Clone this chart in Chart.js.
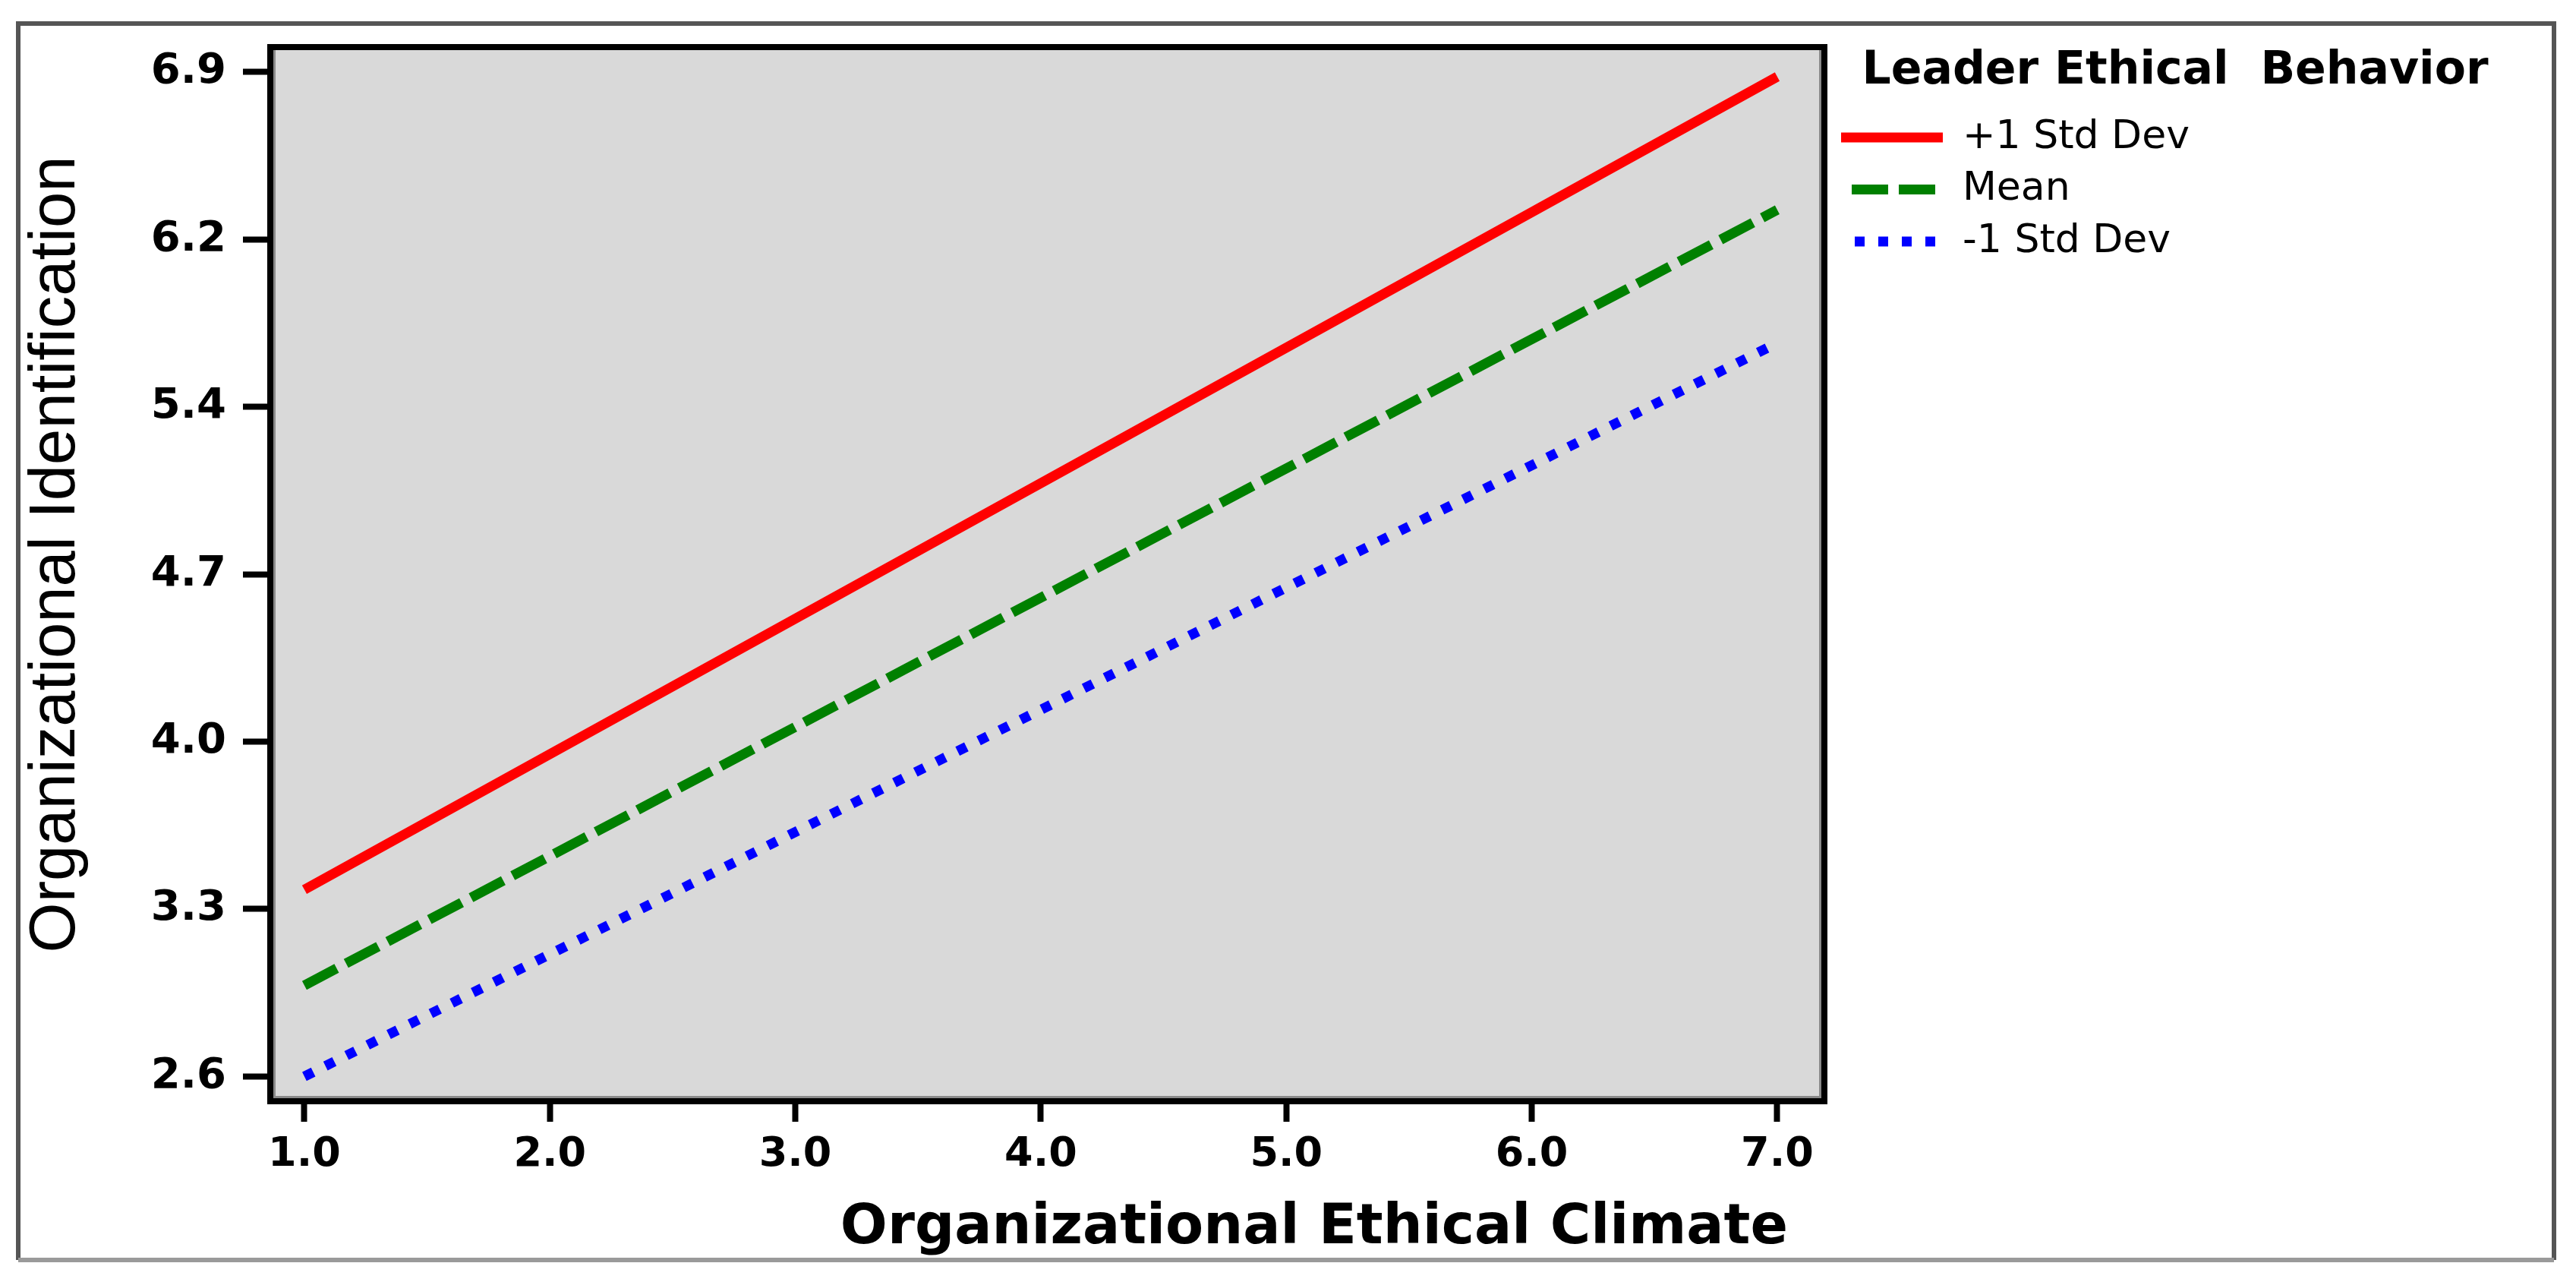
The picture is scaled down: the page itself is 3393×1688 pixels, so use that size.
<!DOCTYPE html>
<html>
<head>
<meta charset="utf-8">
<script src="https://cdn.jsdelivr.net/npm/chart.js@4.4.1/dist/chart.umd.min.js"></script>
<style>
  html, body { margin: 0; padding: 0; background: #ffffff; }
  #wrap { width: 3393px; height: 1688px; position: relative; }
</style>
</head>
<body>
<div id="wrap"><canvas id="c" width="3393" height="1688"></canvas></div>
<script>
// ---------------- data ----------------
const xValues      = [1.0, 7.0];
const plusOneSD    = [3.40, 6.88];
const meanSeries   = [2.99, 6.31];
const minusOneSD   = [2.60, 5.74];
const seriesNames  = ['+1 Std Dev', 'Mean', '-1 Std Dev'];
const xTickValues  = [1, 2, 3, 4, 5, 6, 7];
const xTickLabels  = ['1.0', '2.0', '3.0', '4.0', '5.0', '6.0', '7.0'];
const yTickValues  = [2.600, 3.317, 4.033, 4.750, 5.467, 6.183, 6.900];
const yTickLabels  = ['2.6', '3.3', '4.0', '4.7', '5.4', '6.2', '6.9'];
const xAxisTitle   = 'Organizational Ethical Climate';
const yAxisTitle   = 'Organizational Identification';
const legendTitle  = 'Leader Ethical  Behavior';

// ---------------- styling / layout ----------------
const X_MIN = 0.861, X_MAX = 7.192;
const Y_MIN = 2.494, Y_MAX = 7.007;
const LEGEND_DASH_OFFSET = [0, 48, 13];

function toPoints(ys) { return xValues.map((x, i) => ({ x: x, y: ys[i] })); }

const boxPlugin = {
  id: 'boxPlugin',
  afterLayout(chart) {
    // let the legend (title) extend to the right without being clipped
    const lg = chart.legend;
    if (lg) {
      lg.left = chart.chartArea.right + 5.5;
      const titleCenter = 2865;
      lg.width = 2 * (titleCenter - lg.left);
      lg.right = lg.left + lg.width;
    }
    // nudge axis titles
    const xs = chart.scales.x;
    if (xs) { xs.right -= 48; }
    const ys = chart.scales.y;
    if (ys) { ys.top -= 52; }
  },
  beforeDraw(chart) {
    const { ctx, chartArea: a } = chart;
    ctx.save();
    ctx.fillStyle = '#d9d9d9';
    ctx.fillRect(a.left, a.top, a.right - a.left, a.bottom - a.top);
    ctx.restore();
  },
  afterDatasetsDraw(chart) {
    const { ctx, chartArea: a } = chart;
    ctx.save();
    ctx.strokeStyle = '#8a8a8a';
    ctx.lineWidth = 3;
    ctx.beginPath();
    ctx.moveTo(a.left + 5.5, a.top + 4);
    ctx.lineTo(a.left + 5.5, a.bottom - 5.5);
    ctx.lineTo(a.right - 5.5, a.bottom - 5.5);
    ctx.lineTo(a.right - 5.5, a.top + 4);
    ctx.stroke();
    ctx.strokeStyle = '#000000';
    ctx.lineWidth = 8;
    ctx.strokeRect(a.left, a.top, a.right - a.left, a.bottom - a.top);
    ctx.restore();
  },
  afterDraw(chart) {
    const ctx = chart.ctx;
    ctx.save();
    ctx.lineWidth = 6;
    ctx.strokeStyle = '#555555';
    ctx.beginPath();
    ctx.moveTo(24, 1659); ctx.lineTo(24, 31); ctx.lineTo(3364, 31); ctx.lineTo(3364, 1659);
    ctx.stroke();
    ctx.strokeStyle = '#9a9a9a';
    ctx.beginPath();
    ctx.moveTo(24, 1659); ctx.lineTo(3364, 1659);
    ctx.stroke();
    ctx.restore();
  }
};

Chart.defaults.color = '#000000';

new Chart(document.getElementById('c'), {
  type: 'line',
  data: {
    datasets: [
      { label: seriesNames[0], data: toPoints(plusOneSD),  borderColor: '#ff0000', backgroundColor: '#ff0000',
        borderWidth: 13, pointRadius: 0, tension: 0, borderCapStyle: 'butt' },
      { label: seriesNames[1], data: toPoints(meanSeries), borderColor: '#008000', backgroundColor: '#008000',
        borderWidth: 13, pointRadius: 0, tension: 0, borderDash: [48, 14], borderCapStyle: 'butt' },
      { label: seriesNames[2], data: toPoints(minusOneSD), borderColor: '#0000ff', backgroundColor: '#0000ff',
        borderWidth: 13, pointRadius: 0, tension: 0, borderDash: [13, 18], borderCapStyle: 'butt' }
    ]
  },
  options: {
    responsive: false,
    animation: false,
    devicePixelRatio: 1,
    events: [],
    layout: { padding: { left: 0, top: 62, right: 690, bottom: 0 } },
    scales: {
      x: {
        type: 'linear',
        min: X_MIN, max: X_MAX,
        afterBuildTicks(scale) { scale.ticks = xTickValues.map(v => ({ value: v })); },
        afterFit(scale) { scale.height = 238; },
        border: { display: false },
        grid: { drawOnChartArea: false, drawTicks: true, tickLength: 27, tickWidth: 8, tickColor: '#000000' },
        ticks: {
          autoSkip: false, maxRotation: 0, padding: 12, color: '#000000',
          font: { family: 'DejaVu Sans', size: 54, weight: 'bold' },
          callback(value, index) { return xTickLabels[index]; }
        },
        title: {
          display: true, text: xAxisTitle, align: 'end', color: '#000000',
          font: { family: 'DejaVu Sans', size: 73, weight: 'bold' },
          padding: { top: 0, bottom: 26 }
        }
      },
      y: {
        type: 'linear',
        min: Y_MIN, max: Y_MAX,
        afterBuildTicks(scale) { scale.ticks = yTickValues.map(v => ({ value: v })); },
        afterFit(scale) { scale.width = 356; },
        border: { display: false },
        grid: { drawOnChartArea: false, drawTicks: true, tickLength: 36, tickWidth: 8, tickColor: '#000000' },
        ticks: {
          autoSkip: false, padding: 22, color: '#000000',
          font: { family: 'DejaVu Sans', size: 56, weight: 'bold' },
          callback(value, index) { return yTickLabels[index]; }
        },
        title: {
          display: true, text: yAxisTitle, color: '#000000',
          font: { family: 'Liberation Sans', size: 85, weight: 'normal' },
          padding: { top: 24, bottom: 0 }
        }
      }
    },
    plugins: {
      tooltip: { enabled: false },
      legend: {
        display: true,
        position: 'right',
        align: 'start',
        maxWidth: 300,
        title: {
          display: true, text: legendTitle, position: 'center', color: '#000000',
          font: { family: 'DejaVu Sans', size: 60, weight: 'bold' },
          padding: { top: 2, bottom: 2.5 }
        },
        labels: {
          usePointStyle: true, pointStyle: 'line', pointStyleWidth: 134,
          padding: 16.5, color: '#000000',
          font: { family: 'DejaVu Sans', size: 52, weight: 'normal' },
          generateLabels(chart) {
            const items = Chart.defaults.plugins.legend.labels.generateLabels(chart);
            return items.map((it) => {
              const ds = chart.data.datasets[it.datasetIndex];
              return Object.assign(it, {
                lineDash: ds.borderDash || [],
                lineDashOffset: LEGEND_DASH_OFFSET[it.datasetIndex],
                lineCap: 'butt',
                lineWidth: ds.borderWidth,
                strokeStyle: ds.borderColor,
                fontColor: '#000000',
                pointStyle: 'line'
              });
            });
          }
        }
      }
    }
  },
  plugins: [boxPlugin]
});
</script>
</body>
</html>
